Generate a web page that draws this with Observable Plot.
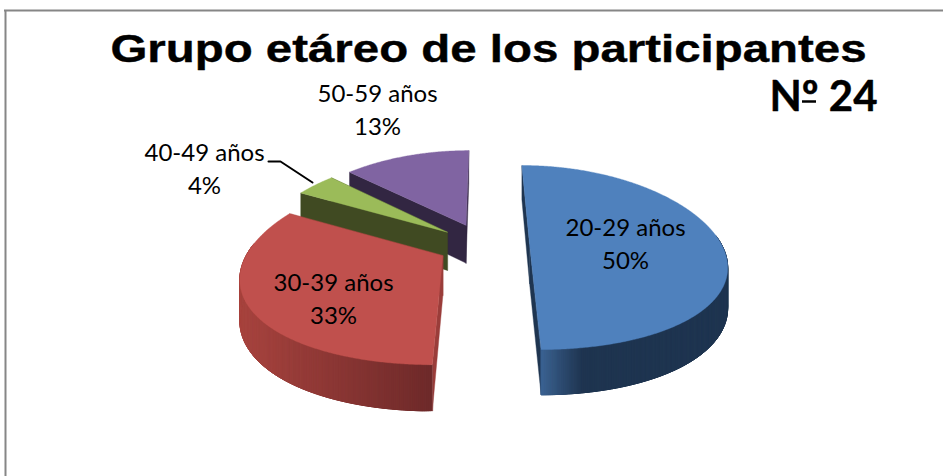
<!DOCTYPE html>
<html>
<head>
<meta charset="utf-8">
<script src="https://cdn.jsdelivr.net/npm/d3@7"></script>
<script src="https://cdn.jsdelivr.net/npm/@observablehq/plot@0.6"></script>
<style>
html,body{margin:0;padding:0;background:#fff}
svg{display:block}
</style>
</head>
<body>
<div id="chart"></div>
<script>
// Data
const groups = ["20-29 años", "30-39 años", "40-49 años", "50-59 años"];
const shares = [50, 33, 4, 13];
const chartTitle = "Grupo etáreo de los participantes";
const chartTag = "Nº 24";

// Styling of the slices, in the order of the groups
const topColors = ["#4f81bd", "#c0504d", "#9bbb59", "#8064a2"];
const faceColors = ["#1f3550", "#9a3d3a", "#404a22", "#322642"];
const rimLight = ["#3b6292", "#a8443f", "#404a22", "#322642"];
const rimDark = ["#1f3550", "#6e2a2a", "#404a22", "#322642"];
const rimFade = [0.22, 1, 1, 1];
const labelX = [625, 333, 204, 377];
const labelY = [228, 283, 153, 94];
const leaderX = [268, 280, 312];
const leaderY = [161, 161, 182];

// 3D view of the pie: one vanishing point, radius 1 on the ground plane
const W = 943, H = 476;
const view = {vx: 483, vy: -400, D: 7.14, P: 4599, Dx: 5, Q: 960, drop: 278, explode: 0.24};
const project = (X, Y) => {
  const d = view.D + Y;
  return {x: view.vx + view.Q * X / (view.Dx + Y), y: view.vy + view.P / d, drop: view.drop / d};
};

const pieAngles = d3.pie().sort(null).value(d => d)(shares);
const rows = [];
let polygonId = 0;
const addPolygon = (points, fill) => {
  const id = polygonId++;
  for (const p of points) rows.push({id, px: p[0], py: p[1], fill});
};
const paintOrder = [3, 2, 1, 0];
for (const i of paintOrder) {
  const {startAngle: a0, endAngle: a1} = pieAngles[i];
  const mid = (a0 + a1) / 2;
  const ox = view.explode * Math.sin(mid), oy = view.explode * Math.cos(mid);
  const at = a => project(ox + Math.sin(a), oy + Math.cos(a));
  const apex = project(ox, oy);
  const steps = Math.max(4, Math.ceil((a1 - a0) / (Math.PI / 400)));
  const angle = k => a0 + (a1 - a0) * k / steps;
  // cut faces
  for (const a of [a1, a0]) {
    const r = at(a);
    addPolygon([[apex.x, apex.y], [r.x, r.y], [r.x, r.y + r.drop], [apex.x, apex.y + apex.drop]], faceColors[i]);
  }
  // outer rim, front half only; each quad overlaps its neighbour so no seams show
  const rimMix = d3.interpolateRgb(rimLight[i], rimDark[i]);
  const rimX = d3.extent(d3.range(steps + 1).map(k => at(angle(k))).filter((_, k) => Math.cos(angle(k)) < 0.1), p => p.x);
  for (let k = 0; k < steps; k++) {
    const a = angle(k), b = angle(k + 1), c = angle(Math.min(steps, k + 6));
    if (Math.cos((a + b) / 2) > 0.1) continue;
    const p = at(a), q = at(b), s = at(c);
    let t = (((p.x + q.x) / 2) - rimX[0]) / (rimX[1] - rimX[0]);
    t = Math.min(1, t / rimFade[i]);
    addPolygon([[p.x, p.y], [s.x, s.y], [s.x, s.y + s.drop], [p.x, p.y + p.drop]], rimMix(t));
  }
  // top face
  const top = [[apex.x, apex.y]];
  for (let k = 0; k <= steps; k++) { const p = at(angle(k)); top.push([p.x, p.y]); }
  addPolygon(top, topColors[i]);
}

const labels = [];
groups.forEach((g, i) => {
  labels.push({x: labelX[i], y: labelY[i], text: g});
  labels.push({x: labelX[i], y: labelY[i] + 33, text: shares[i] + "%"});
});
const leader = leaderX.map((x, i) => ({x, y: leaderY[i]}));

// The title is stretched wide in the reference
const stretchTitle = (index, scales, values, dimensions, context, next) => {
  const g = next(index, scales, values, dimensions, context);
  g.querySelectorAll("text").forEach(t => {
    t.setAttribute("textLength", 756);
    t.setAttribute("lengthAdjust", "spacingAndGlyphs");
  });
  return g;
};

const chart = Plot.plot({
  width: W, height: H, margin: 0,
  x: {domain: [0, W], axis: null},
  y: {domain: [H, 0], axis: null},
  color: {type: "identity"},
  marks: [
    Plot.ruleY([10], {x1: 4, x2: W, stroke: "#868686", strokeWidth: 2}),
    Plot.ruleX([5], {y1: 10, y2: H, stroke: "#868686", strokeWidth: 2}),
    Plot.line(rows, {x: "px", y: "py", z: "id", fill: "fill", stroke: "fill", strokeWidth: 0.4, curve: "linear-closed"}),
    Plot.line(leader, {x: "x", y: "y", stroke: "#000", strokeWidth: 2, curve: "linear"}),
    Plot.text(labels, {x: "x", y: "y", text: "text", fill: "#000", fontFamily: "Lato", fontSize: 24, textAnchor: "middle", lineAnchor: "middle"}),
    Plot.text([chartTitle], {x: [110], y: [49.5], text: d => d, fill: "#000", stroke: "#000", strokeWidth: 0.4, fontFamily: "Liberation Sans", fontWeight: "bold", fontSize: 39, textAnchor: "start", lineAnchor: "middle", render: stretchTitle}),
    Plot.text([chartTag], {x: [823], y: [97], text: d => d, fill: "#000", stroke: "#000", strokeWidth: 0.4, fontFamily: "Lato", fontWeight: "bold", fontSize: 42, textAnchor: "middle", lineAnchor: "middle"}),
    Plot.ruleY([101], {x1: 802, x2: 816, stroke: "#000", strokeWidth: 2.5})
  ]
});
document.getElementById("chart").appendChild(chart);
</script>
</body>
</html>
